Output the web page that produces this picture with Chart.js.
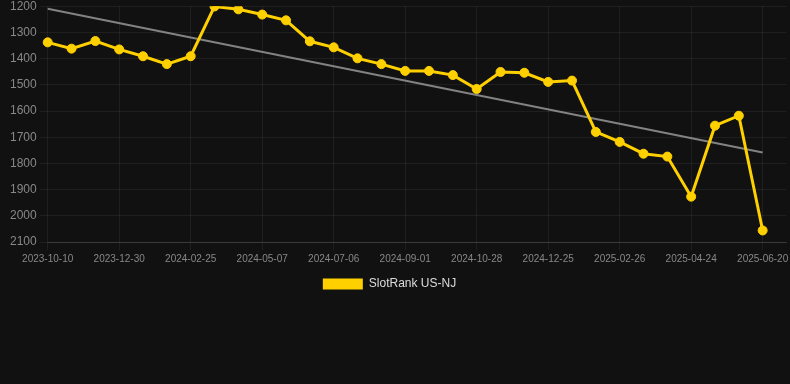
<!DOCTYPE html>
<html>
<head>
<meta charset="utf-8">
<script src="https://cdn.jsdelivr.net/npm/chart.js@4/dist/chart.umd.min.js"></script>
<style>
  html, body { margin: 0; padding: 0; background: #111111; overflow: hidden; }
  #wrap { width: 792px; height: 304px; position: relative; margin-top: -4px; }
</style>
</head>
<body>
<div id="wrap"><canvas id="c"></canvas></div>
<script>
// Category labels (31 observations + one trailing empty slot)
const categories = [
  '2023-10-10','2023-10-31','2023-11-20','2023-12-30','2024-01-17','2024-02-05',
  '2024-02-25','2024-03-18','2024-04-12','2024-05-07','2024-05-28','2024-06-16',
  '2024-07-06','2024-07-25','2024-08-13','2024-09-01','2024-09-20','2024-10-09',
  '2024-10-28','2024-11-18','2024-12-06','2024-12-25','2025-01-14','2025-02-05',
  '2025-02-26','2025-03-16','2025-04-05','2025-04-24','2025-05-13','2025-06-01',
  '2025-06-20',''
];
// SlotRank US-NJ values (lower rank = higher on chart)
const rankValues = [
  1338, 1362, 1333, 1365, 1391, 1421, 1391, 1201, 1212, 1232,
  1254, 1334, 1357, 1399, 1421, 1447, 1447, 1463, 1516, 1451,
  1454, 1489, 1484, 1680, 1718, 1763, 1774, 1927, 1656, 1618,
  2056, null
];
// Trend line end points
const trendValues = [1210].concat(new Array(29).fill(null), [1758, null]);
const yTicks = [1200, 1300, 1400, 1500, 1600, 1700, 1800, 1900, 2000, 2100];

const gridCol = 'rgba(255,255,255,0.06)';
const fontFam = 'Liberation Sans, Arial, sans-serif';
const legendShift = {
  id: 'legendShift',
  afterLayout(chart) {
    if (chart.legend) { chart.legend.left -= 10; chart.legend.right -= 10; }
  }
};
new Chart(document.getElementById('c'), {
  type: 'line',
  plugins: [legendShift],
  data: {
    labels: categories,
    datasets: [
      {
        label: 'SlotRank US-NJ',
        data: rankValues,
        borderColor: '#FFD000',
        backgroundColor: '#FFD000',
        borderWidth: 3,
        pointRadius: 4.5,
        pointBorderWidth: 1,
        pointHoverRadius: 4.5,
        pointBackgroundColor: '#FFD000',
        pointBorderColor: '#FFD000',
        tension: 0
      },
      {
        label: 'trend',
        data: trendValues,
        borderColor: 'rgba(150,150,150,0.85)',
        borderWidth: 2,
        pointRadius: 0,
        spanGaps: true,
        fill: false
      }
    ]
  },
  options: {
    responsive: true,
    maintainAspectRatio: false,
    animation: false,
    layout: { padding: { left: 7, right: 0, top: 0, bottom: 0 } },
    plugins: {
      legend: {
        position: 'bottom',
        labels: {
          color: '#dddddd',
          font: { family: fontFam, size: 12 },
          boxWidth: 40,
          boxHeight: 11,
          filter: item => item.datasetIndex === 0,
          generateLabels: chart => Chart.defaults.plugins.legend.labels.generateLabels(chart)
            .map(l => Object.assign(l, { lineWidth: 0 }))
        }
      },
      tooltip: { enabled: false }
    },
    scales: {
      x: {
        grid: {
          color: ctx => (ctx.index % 3 === 0 ? gridCol : 'transparent'),
          tickColor: ctx => (ctx.index % 3 === 0 ? gridCol : 'transparent')
        },
        border: { color: 'rgba(255,255,255,0.12)' },
        ticks: {
          autoSkip: false,
          maxRotation: 0,
          color: '#888888',
          font: { family: fontFam, size: 10 },
          callback: function (v, i) { return i % 3 === 0 ? categories[i] : ''; }
        }
      },
      y: {
        reverse: true,
        min: 1200,
        max: 2100,
        afterBuildTicks: axis => { axis.ticks = yTicks.map(v => ({ value: v })); },
        grid: { color: gridCol, tickColor: gridCol },
        border: { display: false },
        ticks: {
          color: '#888888',
          font: { family: fontFam, size: 12 },
          callback: v => String(v)
        }
      }
    }
  }
});
</script>
</body>
</html>
